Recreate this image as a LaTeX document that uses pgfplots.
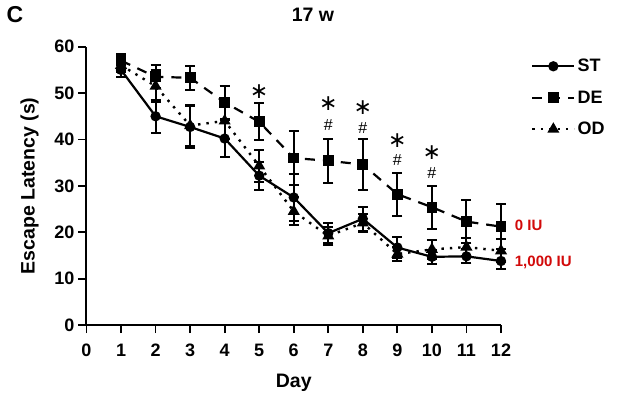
\documentclass[border=0pt]{standalone}
\usepackage{pgfplots}
\pgfplotsset{compat=1.18}
\usepackage{fontspec}
\setmainfont{Liberation Sans}
\newfontfamily\dv{DejaVu Sans}
\definecolor{ivred}{RGB}{210,10,10}
\pgfplotstableread{
day st stE de deE od odE
1  55.0 1.5 57.0 1.5 56.0 1.5
2  45.0 3.5 53.5 2.5 51.5 3.5
3  42.7 4.5 53.3 2.6 43.0 4.5
4  40.2 4.0 48.0 3.5 44.0 4.0
5  32.2 3.0 43.8 4.0 34.3 3.5
6  27.5 5.0 36.0 5.8 24.5 3.0
7  19.8 2.2 35.4 4.8 19.2 2.0
8  22.9 2.6 34.6 5.4 22.0 2.0
9  16.7 2.2 28.2 4.6 15.3 1.5
10 14.7 1.5 25.4 4.6 16.3 2.0
11 14.8 1.5 22.3 4.6 16.8 2.0
12 13.8 1.8 21.2 4.8 16.0 2.5
}\data
\begin{document}
\begin{tikzpicture}[x=1pt,y=1pt]
\useasboundingbox (-86.5pt,-74pt) rectangle (552.5pt,325pt);
\begin{axis}[
  at={(0,0)}, anchor=origin,
  scale only axis, width=414.5pt, height=278.3pt,
  xmin=0, xmax=12, ymin=0, ymax=60,
  axis x line*=bottom, axis y line*=left,
  axis line style={line width=2pt},
  every tick/.style={line width=1.8pt, black},
  tick align=outside, major tick length=8pt,
  xtick={0,...,12}, ytick={0,10,...,60},
  /pgf/number format/assume math mode=true,
  tick label style={font=\fontsize{18}{18}\selectfont\bfseries},
  xticklabel style={inner sep=1pt, yshift=-10pt},
  yticklabel style={inner sep=2pt, xshift=-2pt},
  xlabel={Day}, ylabel={Escape Latency (s)},
  label style={font=\fontsize{19.5}{19.5}\selectfont\bfseries},
  xlabel style={yshift=-13pt},
  ylabel style={yshift=10pt},
  clip=false,
  legend style={draw=none, fill=none, at={(1.065,0.97)}, anchor=north west,
    font=\fontsize{18}{18}\selectfont\bfseries, row sep=13.5pt,
    /tikz/every even column/.style={column sep=6pt}},
  legend cell align=left,
  legend image code/.code={\draw[#1] (0pt,0pt) -- (42pt,0pt); \draw[#1, only marks] plot coordinates {(21pt,0pt)};},
  error bars/error bar style={line width=2pt, solid},
  error bars/error mark options={rotate=90, mark size=5pt, line width=2pt, solid},
]
\addplot[black, line width=2.2pt, solid, mark=*, mark size=4pt,
  error bars/.cd, y dir=both, y explicit]
  table[x=day, y=st, y error=stE]{\data};
\addlegendentry{ST}
\addplot[black, line width=2.2pt, dash pattern=on 10pt off 8pt, mark=square*, mark size=4.3pt, mark options={solid},
  error bars/.cd, y dir=both, y explicit]
  table[x=day, y=de, y error=deE]{\data};
\addlegendentry{DE}
\addplot[black, line width=2.4pt, dash pattern=on 2.4pt off 6pt, mark=triangle*, mark size=4.6pt, mark options={solid},
  error bars/.cd, y dir=both, y explicit]
  table[x=day, y=od, y error=odE]{\data};
\addlegendentry{OD}
\begin{scope}[every node/.style={inner sep=0pt, anchor=base}]
\node[font=\dv\fontsize{22}{22}\selectfont] at (axis cs:5,48.8) {∗};
\node[font=\dv\fontsize{22}{22}\selectfont] at (axis cs:7,46.3) {∗};
\node[font=\dv\fontsize{22}{22}\selectfont] at (axis cs:8,45.3) {∗};
\node[font=\dv\fontsize{22}{22}\selectfont] at (axis cs:9,38.2) {∗};
\node[font=\dv\fontsize{22}{22}\selectfont] at (axis cs:10,35.6) {∗};
\node[font=\fontsize{16}{16}\selectfont] at (axis cs:7,41.9) {\#};
\node[font=\fontsize{16}{16}\selectfont] at (axis cs:8,41.3) {\#};
\node[font=\fontsize{16}{16}\selectfont] at (axis cs:9,34.3) {\#};
\node[font=\fontsize{16}{16}\selectfont] at (axis cs:10,31.5) {\#};
\end{scope}
\node[anchor=west, text=ivred, font=\fontsize{15}{15}\selectfont\bfseries] at (axis cs:12.3,21.5) {0 IU};
\node[anchor=west, text=ivred, font=\fontsize{15}{15}\selectfont\bfseries] at (axis cs:12.3,13.4) {1,000 IU};
\end{axis}
\node[font=\fontsize{19.5}{19.5}\selectfont\bfseries] at (226.5pt,310pt) {17 w};
\node[font=\fontsize{23}{23}\selectfont\bfseries] at (-71.5pt,310pt) {C};
\end{tikzpicture}
\end{document}
